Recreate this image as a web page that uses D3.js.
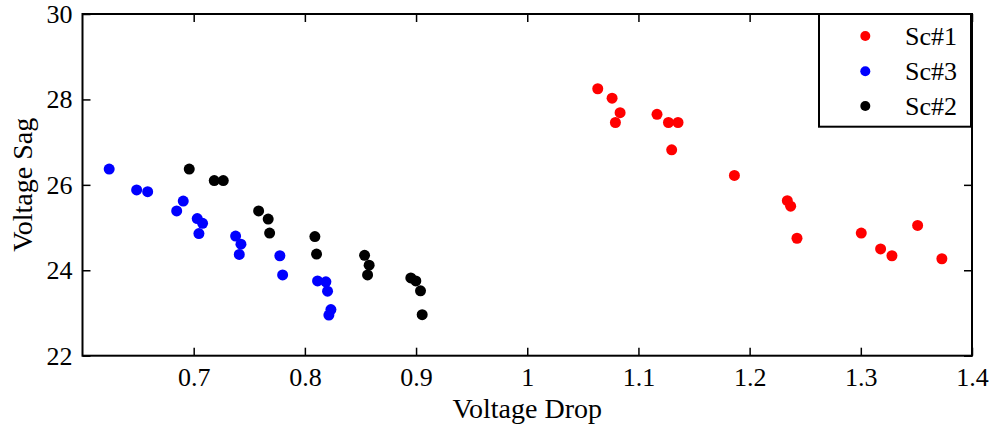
<!DOCTYPE html>
<html>
<head>
<meta charset="utf-8">
<script src="https://cdn.jsdelivr.net/npm/d3@7"></script>
<style>
html,body{margin:0;padding:0;background:#fff;}
svg{display:block;}
text{font-family:"Liberation Serif","Times New Roman",serif;fill:#000;}
</style>
</head>
<body>
<svg id="chart" width="993" height="431"></svg>
<script>
const xTicks = [0.7, 0.8, 0.9, 1, 1.1, 1.2, 1.3, 1.4];
const yTicks = [22, 24, 26, 28, 30];

const sc1X = [1.0634,1.0763,1.0835,1.0793,1.1167,1.127,1.1356,1.1299,1.1863,1.2339,1.2369,1.2426,1.3004,1.3178,1.328,1.3511,1.3729];
const sc1Y = [28.25,28.03,27.69,27.46,27.65,27.46,27.46,26.82,26.22,25.63,25.50,24.75,24.87,24.50,24.34,25.05,24.27];

const sc3X = [0.624,0.6487,0.6586,0.6906,0.6847,0.7032,0.708,0.7047,0.7377,0.7425,0.741,0.7775,0.780,0.8114,0.8189,0.8204,0.8234,0.8216];
const sc3Y = [26.37,25.88,25.84,25.62,25.39,25.21,25.10,24.86,24.80,24.61,24.37,24.34,23.89,23.75,23.73,23.51,23.08,22.95];

const sc2X = [0.696,0.7185,0.7266,0.7584,0.767,0.7683,0.809,0.8105,0.8537,0.8578,0.8564,0.8953,0.8998,0.904,0.9055];
const sc2Y = [26.37,26.10,26.10,25.39,25.20,24.87,24.79,24.38,24.35,24.12,23.89,23.82,23.75,23.52,22.96];

const seriesNames = ["Sc#1", "Sc#3", "Sc#2"];
const seriesColors = ["#ff0000", "#0000ff", "#000000"];
const seriesData = [[sc1X, sc1Y], [sc3X, sc3Y], [sc2X, sc2Y]];

const serif = "'Liberation Serif', 'Times New Roman', serif";
const svg = d3.select("#chart");
const L = 82.5, R = 972, T = 14, B = 355.7;
const x = d3.scaleLinear().domain([0.6, 1.4]).range([L, R]);
const y = d3.scaleLinear().domain([22, 30]).range([B, T]);

const fmt = d => String(+d.toFixed(2));

// points
seriesData.forEach((s, i) => {
  const pts = s[0].map((v, j) => [v, s[1][j]]);
  svg.append("g").selectAll("circle").data(pts).enter().append("circle")
    .attr("cx", d => x(d[0])).attr("cy", d => y(d[1]))
    .attr("r", 5.5).attr("fill", seriesColors[i]);
});

// axes (ticks inward)
const tickLen = 8;
const gx = svg.append("g").attr("transform", `translate(0,${B})`)
  .call(d3.axisBottom(x).tickValues(xTicks).tickFormat(fmt).tickSizeInner(-tickLen).tickSizeOuter(0).tickPadding(12));
const gxt = svg.append("g").attr("transform", `translate(0,${T})`)
  .call(d3.axisTop(x).tickValues(xTicks).tickFormat("").tickSizeInner(-tickLen).tickSizeOuter(0));
const gy = svg.append("g").attr("transform", `translate(${L},0)`)
  .call(d3.axisLeft(y).tickValues(yTicks).tickFormat(fmt).tickSizeInner(-tickLen).tickSizeOuter(0).tickPadding(10));
const gyr = svg.append("g").attr("transform", `translate(${R},0)`)
  .call(d3.axisRight(y).tickValues(yTicks).tickFormat("").tickSizeInner(-tickLen).tickSizeOuter(0));

[gx, gxt, gy, gyr].forEach(g => {
  g.attr("font-family", serif).attr("font-size", 26);
  g.select(".domain").remove();
  g.selectAll(".tick line").attr("stroke", "#000").attr("stroke-width", 1.5);
  g.selectAll("text").style("font-family", serif).attr("font-size", 26);
});
gx.selectAll(".tick text").attr("dy", "0.71em");

// frame
svg.append("rect").attr("x", L).attr("y", T).attr("width", R - L).attr("height", B - T)
  .attr("fill", "none").attr("stroke", "#000").attr("stroke-width", 2);

// axis labels
svg.append("text").attr("x", (L + R) / 2).attr("y", 418).attr("text-anchor", "middle")
  .style("font-family", serif).attr("font-size", 28).text("Voltage Drop");
svg.append("text").attr("transform", `translate(32,${(T + B) / 2}) rotate(-90)`)
  .style("font-family", serif).attr("text-anchor", "middle").attr("font-size", 28).text("Voltage Sag");

// legend
const lg = svg.append("g");
lg.append("rect").attr("x", 819).attr("y", T).attr("width", 152).attr("height", 112.7)
  .attr("fill", "#fff").attr("stroke", "#000").attr("stroke-width", 2);
const legY = [36, 71.3, 106];
seriesNames.forEach((n, i) => {
  lg.append("circle").attr("cx", 865.3).attr("cy", legY[i]).attr("r", 5).attr("fill", seriesColors[i]);
  lg.append("text").attr("x", 905).attr("y", legY[i]).attr("dy", "0.35em")
    .style("font-family", serif).attr("font-size", 26).text(n);
});
</script>
</body>
</html>
